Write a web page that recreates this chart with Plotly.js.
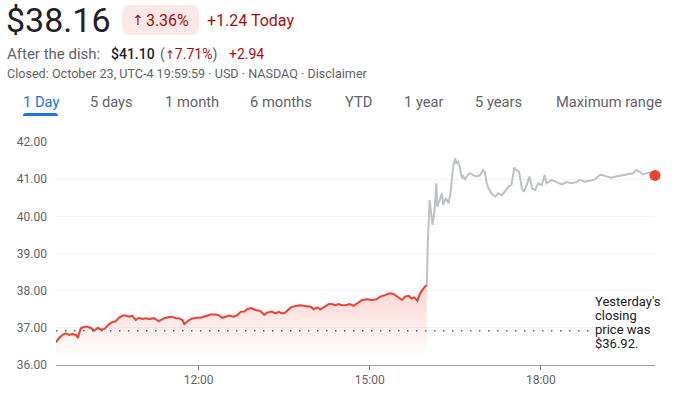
<!DOCTYPE html>
<html>
<head>
<meta charset="utf-8">
<script src="https://cdn.plot.ly/plotly-3.0.1.min.js"></script>
<style>
  html, body { margin:0; padding:0; background:#fff; width:678px; height:397px; overflow:hidden; font-family: Roboto, "Noto Sans", Arial, sans-serif; }
  #chart { position:absolute; left:0; top:0; width:678px; height:397px; }
  .t { position:absolute; white-space:nowrap; }
  .red { color:#a50e0e; }
  .gray { color:#5f6368; }
  .tab { position:absolute; white-space:nowrap; top:94.5px; font-size:14.7px; line-height:14.7px; color:#5f6368; }
</style>
</head>
<body>
<div id="chart"></div>

<div class="t" style="left:6px; top:3px; font-size:34px; line-height:34px; color:#202124;">$38.16</div>
<div class="t red" style="left:122px; top:5px; width:77px; height:30px; background:#fce8e6; border-radius:8px; display:flex; align-items:center; justify-content:center; font-size:16px;"><span style="font-family:'DejaVu Sans'; font-size:14px; margin-right:2px;">↑</span>3.36%</div>
<div class="t red" style="left:207px; top:12.5px; font-size:16px; line-height:16px;">+1.24 Today</div>

<div class="t gray" style="left:7px; top:46.5px; font-size:15px; line-height:15px;">After the dish:</div>
<div class="t" style="left:111px; top:47px; font-size:14px; line-height:14px; color:#202124; font-weight:500;">$41.10</div>
<div class="t" style="left:160px; top:47px; font-size:14px; line-height:14px;"><span class="gray">(</span><span class="red"><span style="font-family:'DejaVu Sans'; font-size:12px;">↑</span>7.71%</span><span class="gray">)</span></div>
<div class="t red" style="left:229px; top:47px; font-size:14px; line-height:14px;">+2.94</div>

<div class="t gray" style="left:7px; top:67.5px; font-size:12.6px; line-height:12.6px;">Closed: October 23, UTC-4 19:59:59 · USD · NASDAQ · Disclaimer</div>

<div class="tab" style="left:23px; color:#1a73e8;">1 Day</div>
<div class="t" style="left:23px; top:113px; width:35px; height:3px; background:#1a73e8; border-radius:3px 3px 0 0;"></div>
<div class="tab" style="left:90px;">5 days</div>
<div class="tab" style="left:165px;">1 month</div>
<div class="tab" style="left:250px;">6 months</div>
<div class="tab" style="left:345px;">YTD</div>
<div class="tab" style="left:404px;">1 year</div>
<div class="tab" style="left:475px;">5 years</div>
<div class="tab" style="left:556px;">Maximum range</div>

<script>
// ---- Data ----
const regularTimes = ["09:30","09:33","09:37","09:40","09:44","09:47","09:51","09:53","09:56","10:00","10:03","10:07","10:10","10:14","10:17","10:21","10:26","10:29","10:33","10:36","10:40","10:43","10:47","10:50","10:54","10:57","11:01","11:04","11:08","11:13","11:18","11:24","11:29","11:32","11:36","11:39","11:43","11:45","11:48","11:52","11:57","12:02","12:07","12:13","12:18","12:21","12:25","12:28","12:32","12:37","12:41","12:44","12:48","12:51","12:55","13:00","13:05","13:09","13:12","13:17","13:21","13:24","13:28","13:31","13:37","13:42","13:47","13:52","13:58","14:01","14:05","14:08","14:12","14:17","14:20","14:24","14:27","14:31","14:34","14:39","14:43","14:47","14:52","14:57","15:02","15:07","15:11","15:16","15:21","15:25","15:28","15:34","15:37","15:41","15:44","15:47","15:50","15:53","15:56","15:58","16:00"];
const regularPrices = [36.61,36.72,36.81,36.85,36.81,36.83,36.81,36.73,36.99,37.03,37.03,36.99,36.92,37.00,36.95,36.97,37.10,37.15,37.18,37.27,37.33,37.33,37.30,37.33,37.21,37.27,37.24,37.26,37.24,37.26,37.18,37.26,37.29,37.30,37.26,37.26,37.21,37.10,37.17,37.24,37.27,37.27,37.31,37.36,37.36,37.34,37.27,37.30,37.33,37.30,37.35,37.43,37.44,37.50,37.53,37.48,37.45,37.35,37.41,37.44,37.39,37.43,37.39,37.41,37.55,37.59,37.61,37.59,37.57,37.50,37.55,37.50,37.57,37.64,37.64,37.61,37.64,37.61,37.61,37.64,37.59,37.66,37.75,37.77,37.75,37.77,37.84,37.88,37.93,37.91,37.86,37.75,37.84,37.86,37.79,37.82,37.73,37.93,38.04,38.11,38.16];

const afterTimes = ["16:00","16:01","16:03","16:06","16:08","16:10","16:11","16:13","16:16","16:17","16:20","16:23","16:25","16:28","16:30","16:31","16:33","16:35","16:37","16:38","16:40","16:43","16:45","16:49","16:52","16:56","16:59","17:01","17:03","17:05","17:08","17:12","17:15","17:19","17:22","17:26","17:29","17:32","17:34","17:37","17:40","17:42","17:45","17:48","17:51","17:54","17:57","18:01","18:04","18:06","18:11","18:16","18:22","18:27","18:32","18:37","18:41","18:46","18:51","18:56","19:02","19:05","19:09","19:14","19:19","19:23","19:26","19:31","19:37","19:40","19:44","19:47","19:51","19:54","20:00"];
const afterPrices = [38.16,39.27,40.44,39.77,40.12,40.89,40.26,40.39,40.62,40.31,40.49,40.35,40.66,41.38,41.56,41.43,41.47,41.29,41.02,41.11,40.98,41.11,41.16,41.11,41.07,41.11,41.25,41.20,40.89,40.75,40.62,40.53,40.62,40.57,40.66,40.80,40.84,41.31,41.25,41.20,40.75,40.66,40.84,41.07,40.75,40.71,40.89,40.84,41.11,40.89,40.98,40.93,40.86,40.92,40.89,40.92,40.98,40.93,40.95,40.98,41.11,41.11,41.07,41.04,41.07,41.09,41.11,41.13,41.16,41.25,41.20,41.13,41.16,41.18,41.10];

const previousClose = 36.92;
const xTickTimes = ["12:00","15:00","18:00"];
const xTickLabels = ["12:00","15:00","18:00"];
const yTickValues = [36,37,38,39,40,41,42];
const captionLines = ["Yesterday's","closing","price was","$36.92."];
const sessionStart = "09:30";
const sessionEnd = "20:00";
const captionTime = "18:55";
const dottedEndTime = "18:51";

// ---- helpers ----
function toHours(s){ const p = s.split(":"); return +p[0] + (+p[1])/60; }

const red = '#ea4335';
const gray = '#bdc1c6';

const traces = [
  {
    x: regularTimes.map(toHours), y: regularPrices, type:'scatter', mode:'lines',
    line:{color:red, width:2}, fill:'tozeroy',
    fillgradient:{type:'vertical', start:36.2, stop:38.2,
      colorscale:[[0,'rgba(234,67,53,0)'],[1,'rgba(234,67,53,0.24)']]},
    hoverinfo:'skip'
  },
  {
    x: afterTimes.map(toHours), y: afterPrices, type:'scatter', mode:'lines',
    line:{color:gray, width:2}, hoverinfo:'skip'
  },
  {
    x: [toHours(afterTimes[afterTimes.length-1])], y: [afterPrices[afterPrices.length-1]],
    type:'scatter', mode:'markers', marker:{color:red, size:11}, cliponaxis:false, hoverinfo:'skip'
  }
];

const annotations = captionLines.map((line, i) => ({
  text: line, xref:'x', yref:'y', x: toHours(captionTime), y: 37.71,
  xanchor:'left', yanchor:'middle', yshift: -14*i, showarrow:false,
  font:{family:'Roboto', size:13, color:'#202124'}
}));

const layout = {
  width:678, height:397,
  margin:{l:56, r:23, t:142, b:32, pad:0},
  paper_bgcolor:'rgba(0,0,0,0)', plot_bgcolor:'#fff',
  showlegend:false,
  font:{family:'Roboto', size:12, color:'#5f6368'},
  xaxis:{
    range:[toHours(sessionStart), toHours(sessionEnd)],
    tickvals: xTickTimes.map(toHours), ticktext: xTickLabels,
    showgrid:false, zeroline:false,
    showline:true, linecolor:'#9aa0a6', linewidth:1,
    ticks:'outside', ticklen:4, tickwidth:1, tickcolor:'#70757a',
    tickfont:{family:'Roboto', size:12, color:'#5f6368'}
  },
  yaxis:{
    range:[36,42], tickvals:yTickValues, ticktext: yTickValues.map(v=>v.toFixed(2)),
    showgrid:true, gridcolor:'#f1f3f4', gridwidth:1, zeroline:false, showline:false,
    ticks:'', ticklabelstandoff:8,
    tickfont:{family:'Roboto', size:12, color:'#5f6368'}
  },
  shapes:[{
    type:'line', xref:'x', yref:'y',
    x0: toHours(sessionStart), x1: toHours(dottedEndTime), y0: previousClose, y1: previousClose,
    line:{color:'#5f6368', width:1.5, dash:'1.5px,7.5px'}
  }],
  annotations: annotations
};

Plotly.newPlot('chart', traces, layout, {staticPlot:true, displayModeBar:false});
</script>
</body>
</html>
